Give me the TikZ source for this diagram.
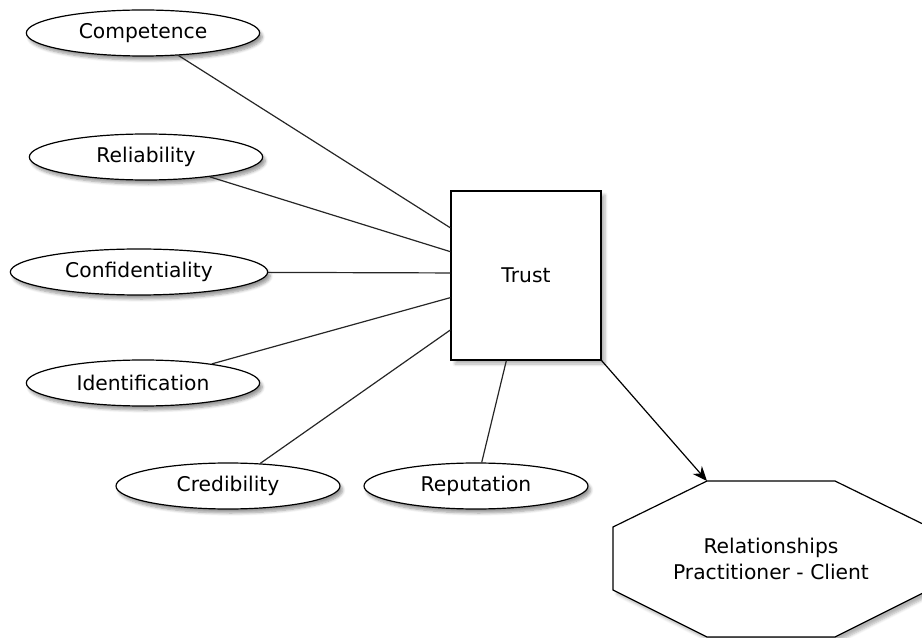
\documentclass[tikz,border=0pt]{standalone}
\usepackage{fontspec}
\setmainfont{DejaVu Sans}
\usetikzlibrary{shadows, shadows.blur, arrows.meta, positioning, calc, shapes.geometric}
\tikzset {
  factor/.style = {draw, line width=0.9pt, ellipse, fill=white, inner sep=0pt, minimum height=34.5pt, minimum width=175pt, blur shadow={shadow xshift=2pt, shadow yshift=-3pt, shadow opacity=40, shadow blur steps=6}},
  trustbox/.style = {draw, line width=0.9pt, rectangle, fill=white, minimum width=112.5pt, minimum height=126.75pt, blur shadow={shadow xshift=3pt, shadow yshift=-3pt, shadow opacity=30, shadow blur steps=6}},
  line/.style = {line width=0.9pt, color=black!85},
  arrow/.style = {->, line width=0.9pt, color=black, >={Stealth[length=11pt, width=9pt]}},
}

\begin{document}
\begin{tikzpicture}[x=0.75pt, y=-0.75pt, font=\fontsize{15.2}{19.5}\selectfont]
    \useasboundingbox (0,0) rectangle (922,638);

    % the factors of trust
    \node[factor, name=comp] (comp) at (143,33) {Competence};
    \node[factor, name=reli] (reli) at (146,157) {Reliability};
    \node[factor, name=conf, minimum width=193pt] (conf) at (139,272) {Confidentiality};
    \node[factor, name=iden] (iden) at (143,383) {Identification};
    \node[factor, name=cred, minimum width=168pt] (cred) at (228,486) {Credibility};
    \node[factor, name=repu, minimum width=168pt] (repu) at (476,486) {Reputation};

    \node[trustbox, name=trust] (trust) at (526,275.5) {Trust};

    % the relationship octagon, cut at the right edge
    \draw[line width=0.9pt, fill=white, blur shadow={shadow xshift=3pt, shadow yshift=-3pt, shadow opacity=30, shadow blur steps=6}]
        (707,481) -- (835,481) -- (929,527) -- (929,590) -- (835,637) -- (707,637) -- (613,590) -- (613,527) -- cycle;
    \coordinate (octtop) at (707,481);
    \node[align=center] (relation) at (771,559) {Relationships\\Practitioner - Client};

    \draw[line] (comp) -- ($(trust.north west)!0.22!(trust.south west)$);
    \draw[line] (reli) -- ($(trust.north west)!0.36!(trust.south west)$);
    \draw[line] (conf) -- ($(trust.north west)!0.485!(trust.south west)$);
    \draw[line] (iden) -- ($(trust.north west)!0.63!(trust.south west)$);
    \draw[line] (cred) -- ($(trust.north west)!0.82!(trust.south west)$);
    \draw[line] (repu) -- ($(trust.south west)!0.37!(trust.south east)$);

    \draw[arrow] (trust.south east) -- (octtop);

\end{tikzpicture}
\end{document}
